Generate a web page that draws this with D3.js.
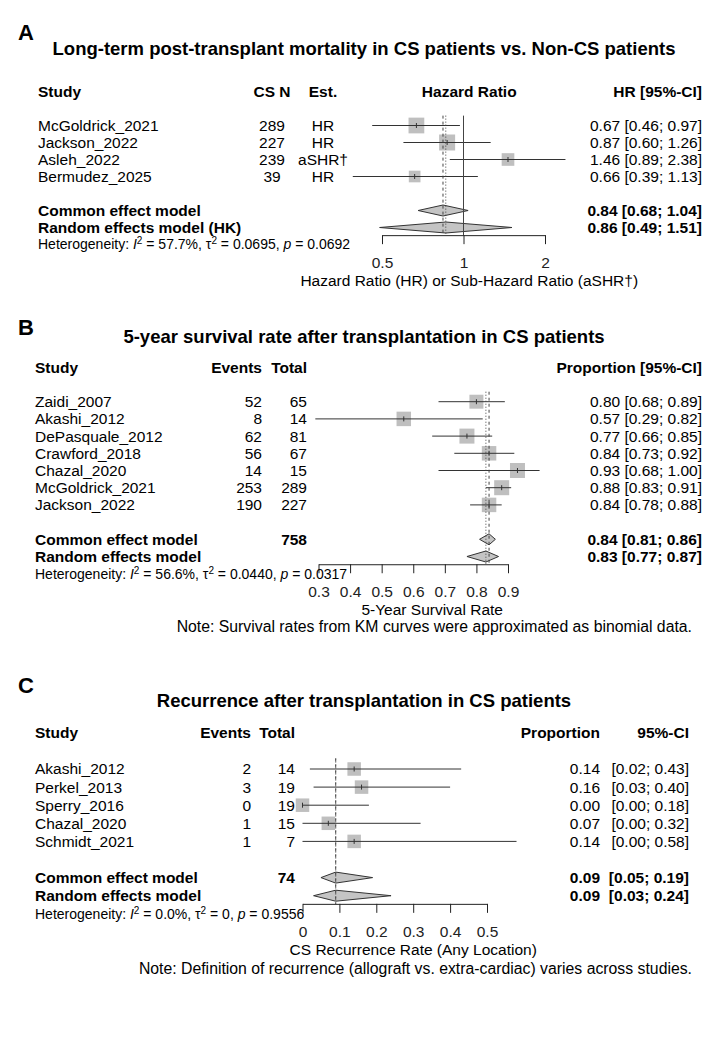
<!DOCTYPE html>
<html>
<head>
<meta charset="utf-8">
<script src="https://cdn.jsdelivr.net/npm/d3@7"></script>
<style>
  body { margin: 0; background: #fff; }
  svg { display: block; font-family: "Liberation Sans", Arial, Helvetica, sans-serif; }
</style>
</head>
<body>
<div id="chart"></div>
<script>
"use strict"

// ---- Panel A: long-term mortality, CS vs non-CS
const titleA = "Long-term post-transplant mortality in CS patients vs. Non-CS patients"
const studiesA = ["McGoldrick_2021", "Jackson_2022", "Asleh_2022", "Bermudez_2025"]
const csNA = [289, 227, 239, 39]
const estTypeA = ["HR", "HR", "aSHR†", "HR"]
const hrA = [0.67, 0.87, 1.46, 0.66]
const lowerA = [0.46, 0.60, 0.89, 0.39]
const upperA = [0.97, 1.26, 2.38, 1.13]
const weightA = [31, 32, 20, 17]
const pooledNamesA = ["Common effect model", "Random effects model (HK)"]
const pooledA = [0.84, 0.86]
const pooledLowerA = [0.68, 0.49]
const pooledUpperA = [1.04, 1.51]
const hetA = ["57.7%", "0.0695", "0.0692"]
const ticksA = [0.5, 1, 2]
const xlabA = "Hazard Ratio (HR) or Sub-Hazard Ratio (aSHR†)"

// ---- Panel B: 5-year survival
const titleB = "5-year survival rate after transplantation in CS patients"
const studiesB = ["Zaidi_2007", "Akashi_2012", "DePasquale_2012", "Crawford_2018", "Chazal_2020", "McGoldrick_2021", "Jackson_2022"]
const eventsB = [52, 8, 62, 56, 14, 253, 190]
const totalB = [65, 14, 81, 67, 15, 289, 227]
const propB = [0.80, 0.57, 0.77, 0.84, 0.93, 0.88, 0.84]
const lowerB = [0.68, 0.29, 0.66, 0.73, 0.68, 0.83, 0.78]
const upperB = [0.89, 0.82, 0.85, 0.92, 1.00, 0.91, 0.88]
const weightB = [13, 14, 15, 14, 15, 15, 14]
const pooledNamesB = ["Common effect model", "Random effects model"]
const pooledTotalB = 758
const pooledB = [0.84, 0.83]
const pooledLowerB = [0.81, 0.77]
const pooledUpperB = [0.86, 0.87]
const hetB = ["56.6%", "0.0440", "0.0317"]
const ticksB = [0.3, 0.4, 0.5, 0.6, 0.7, 0.8, 0.9]
const xlabB = "5-Year Survival Rate"
const noteB = "Note: Survival rates from KM curves were approximated as binomial data."

// ---- Panel C: recurrence
const titleC = "Recurrence after transplantation in CS patients"
const studiesC = ["Akashi_2012", "Perkel_2013", "Sperry_2016", "Chazal_2020", "Schmidt_2021"]
const eventsC = [2, 3, 0, 1, 1]
const totalC = [14, 19, 19, 15, 7]
const propC = [0.14, 0.16, 0.00, 0.07, 0.14]
const lowerC = [0.02, 0.03, 0.00, 0.00, 0.00]
const upperC = [0.43, 0.40, 0.18, 0.32, 0.58]
const weightC = [20, 20, 20, 20, 20]
const pooledNamesC = ["Common effect model", "Random effects model"]
const pooledTotalC = 74
const pooledC = [0.09, 0.09]
const pooledLowerC = [0.05, 0.03]
const pooledUpperC = [0.19, 0.24]
const hetC = ["0.0%", "0", "0.9556"]
const ticksC = [0, 0.1, 0.2, 0.3, 0.4, 0.5]
const xlabC = "CS Recurrence Rate (Any Location)"
const noteC = "Note: Definition of recurrence (allograft vs. extra-cardiac) varies across studies."

const f2 = d3.format(".2f")
const ciText = (v, lo, hi) => `${f2(v)} [${f2(lo)}; ${f2(hi)}]`
const bracket = (lo, hi) => `[${f2(lo)}; ${f2(hi)}]`

const fontSize = 15.5

const svg = d3.select("#chart").append("svg")
  .attr("width", 720)
  .attr("height", 1040)
  .attr("viewBox", "0 0 720 1040")

function drawForest(p) {
  const g = svg.append("g")
  const n = p.est.length
  const rowY = i => p.y0 + p.rowH * i
  const x = p.x

  g.append("text")
    .attr("x", 18).attr("y", p.letterY)
    .attr("font-size", 22).attr("font-weight", "bold")
    .text(p.letter)

  g.append("text")
    .attr("x", 364).attr("y", p.titleY)
    .attr("text-anchor", "middle")
    .attr("font-size", 18.5).attr("font-weight", "bold")
    .text(p.title)

  // table columns
  p.columns.forEach(c => {
    const t = (y, s, bold) => g.append("text")
      .attr("x", c.x).attr("y", y).attr("dy", "0.35em")
      .attr("text-anchor", c.anchor)
      .attr("font-size", fontSize)
      .attr("font-weight", bold ? "bold" : null)
      .text(s)
    t(rowY(-2), c.header, true)
    c.rows.forEach((s, i) => t(rowY(i), s, false))
    ;(c.pooled || []).forEach((s, i) => t(rowY(n + 1 + i), s, true))
  })

  if (p.plotHeader) {
    g.append("text")
      .attr("x", x(p.xlabAt)).attr("y", rowY(-2)).attr("dy", "0.35em")
      .attr("text-anchor", "middle").attr("font-size", fontSize).attr("font-weight", "bold")
      .text(p.plotHeader)
  }

  const axisY = rowY(n + 2) + p.rowH * 0.45
  const topY = rowY(0) - p.rowH * 0.58

  // study squares and CIs
  const maxW = d3.max(p.weight)
  p.est.forEach((v, i) => {
    const y = rowY(i)
    const s = p.maxSide * Math.sqrt(p.weight[i] / maxW)
    g.append("rect")
      .attr("x", x(v) - s / 2).attr("y", y - s / 2)
      .attr("width", s).attr("height", s)
      .attr("fill", "#bfbfbf")
    g.append("line")
      .attr("x1", x(p.lower[i])).attr("x2", x(p.upper[i]))
      .attr("y1", y).attr("y2", y)
      .attr("stroke", "#333").attr("stroke-width", 1)
    g.append("line")
      .attr("x1", x(v)).attr("x2", x(v))
      .attr("y1", y - 2.5).attr("y2", y + 2.5)
      .attr("stroke", "#333").attr("stroke-width", 1)
  })

  // pooled diamonds
  p.pooled.forEach((v, i) => {
    const y = rowY(n + 1 + i)
    const h = 5.5
    const pts = [[x(p.pooledLower[i]), y], [x(v), y - h], [x(p.pooledUpper[i]), y], [x(v), y + h]]
    g.append("polygon")
      .attr("points", pts.map(d => d.join(",")).join(" "))
      .attr("fill", "#c4c4c4").attr("stroke", "#333").attr("stroke-width", 1)
  })

  // reference lines
  if (p.nullAt != null) {
    g.append("line")
      .attr("x1", x(p.nullAt)).attr("x2", x(p.nullAt))
      .attr("y1", topY).attr("y2", axisY)
      .attr("stroke", "#444").attr("stroke-width", 1)
  }
  g.append("line")
    .attr("x1", x(p.pooled[0])).attr("x2", x(p.pooled[0]))
    .attr("y1", topY).attr("y2", axisY)
    .attr("stroke", "#444").attr("stroke-width", 1)
    .attr("stroke-dasharray", "3,3")
  g.append("line")
    .attr("x1", x(p.pooled[1])).attr("x2", x(p.pooled[1]))
    .attr("y1", topY).attr("y2", axisY)
    .attr("stroke", "#444").attr("stroke-width", 1)
    .attr("stroke-dasharray", "1,2")

  // axis
  const ax = g.append("g")
    .attr("transform", `translate(0,${axisY})`)
    .call(d3.axisBottom(x)
      .tickValues(p.ticks)
      .tickFormat(d3.format("~g"))
      .tickSize(9)
      .tickSizeOuter(0)
      .tickPadding(13))
  ax.attr("font-size", fontSize).attr("font-family", null).style("color", "#222")

  const tickBase = axisY + 33.5
  g.append("text")
    .attr("x", x(p.xlabAt)).attr("y", tickBase + p.rowH)
    .attr("text-anchor", "middle").attr("font-size", fontSize)
    .text(p.xlab)

  if (p.note) {
    g.append("text")
      .attr("x", 692).attr("y", tickBase + 2 * p.rowH)
      .attr("text-anchor", "end").attr("font-size", 15.8)
      .text(p.note)
  }

  // heterogeneity line
  const het = g.append("text")
    .attr("x", p.columns[0].x).attr("y", rowY(n + 3)).attr("dy", "0.35em")
    .attr("font-size", 14)
  het.append("tspan").text("Heterogeneity: ")
  het.append("tspan").attr("font-style", "italic").text("I")
  het.append("tspan").attr("font-size", 10).attr("dy", -5).text("2")
  het.append("tspan").attr("dy", 5).text(` = ${p.het[0]}, τ`)
  het.append("tspan").attr("font-size", 10).attr("dy", -5).text("2")
  het.append("tspan").attr("dy", 5).text(` = ${p.het[1]}, `)
  het.append("tspan").attr("font-style", "italic").text("p")
  het.append("tspan").text(` = ${p.het[2]}`)
}

drawForest({
  letter: "A", letterY: 40, title: titleA, titleY: 55,
  y0: 125.5, rowH: 17,
  x: d3.scaleLog().domain([0.5, 2]).range([382, 545]),
  est: hrA, lower: lowerA, upper: upperA, weight: weightA, maxSide: 16,
  pooled: pooledA, pooledLower: pooledLowerA, pooledUpper: pooledUpperA,
  columns: [
    { header: "Study", x: 38, anchor: "start", rows: studiesA, pooled: pooledNamesA },
    { header: "CS N", x: 272, anchor: "middle", rows: csNA.map(String) },
    { header: "Est.", x: 323, anchor: "middle", rows: estTypeA },
    { header: "HR [95%-CI]", x: 702, anchor: "end",
      rows: hrA.map((v, i) => ciText(v, lowerA[i], upperA[i])),
      pooled: pooledA.map((v, i) => ciText(v, pooledLowerA[i], pooledUpperA[i])) }
  ],
  plotHeader: "Hazard Ratio", nullAt: 1, xlabAt: 1.05,
  ticks: ticksA, xlab: xlabA, het: hetA
})

drawForest({
  letter: "B", letterY: 335, title: titleB, titleY: 343,
  y0: 401.7, rowH: 17.2,
  x: d3.scaleLinear().domain([0.3, 0.9]).range([318.5, 508]),
  est: propB, lower: lowerB, upper: upperB, weight: weightB, maxSide: 15,
  pooled: pooledB, pooledLower: pooledLowerB, pooledUpper: pooledUpperB,
  columns: [
    { header: "Study", x: 35, anchor: "start", rows: studiesB, pooled: pooledNamesB },
    { header: "Events", x: 262, anchor: "end", rows: eventsB.map(String) },
    { header: "Total", x: 307, anchor: "end", rows: totalB.map(String), pooled: [String(pooledTotalB), ""] },
    { header: "Proportion [95%-CI]", x: 702, anchor: "end",
      rows: propB.map((v, i) => ciText(v, lowerB[i], upperB[i])),
      pooled: pooledB.map((v, i) => ciText(v, pooledLowerB[i], pooledUpperB[i])) }
  ],
  xlabAt: 0.66, ticks: ticksB, xlab: xlabB, note: noteB, het: hetB
})

drawForest({
  letter: "C", letterY: 693, title: titleC, titleY: 707,
  y0: 769, rowH: 18.1,
  x: d3.scaleLinear().domain([0, 0.5]).range([302.5, 487]),
  est: propC, lower: lowerC, upper: upperC, weight: weightC, maxSide: 13.5,
  pooled: pooledC, pooledLower: pooledLowerC, pooledUpper: pooledUpperC,
  columns: [
    { header: "Study", x: 35, anchor: "start", rows: studiesC, pooled: pooledNamesC },
    { header: "Events", x: 251, anchor: "end", rows: eventsC.map(String) },
    { header: "Total", x: 295, anchor: "end", rows: totalC.map(String), pooled: [String(pooledTotalC), ""] },
    { header: "Proportion", x: 600, anchor: "end", rows: propC.map(f2), pooled: pooledC.map(f2) },
    { header: "95%-CI", x: 689, anchor: "end",
      rows: propC.map((v, i) => bracket(lowerC[i], upperC[i])),
      pooled: pooledC.map((v, i) => bracket(pooledLowerC[i], pooledUpperC[i])) }
  ],
  xlabAt: 0.3, ticks: ticksC, xlab: xlabC, note: noteC, het: hetC
})
</script>
</body>
</html>
